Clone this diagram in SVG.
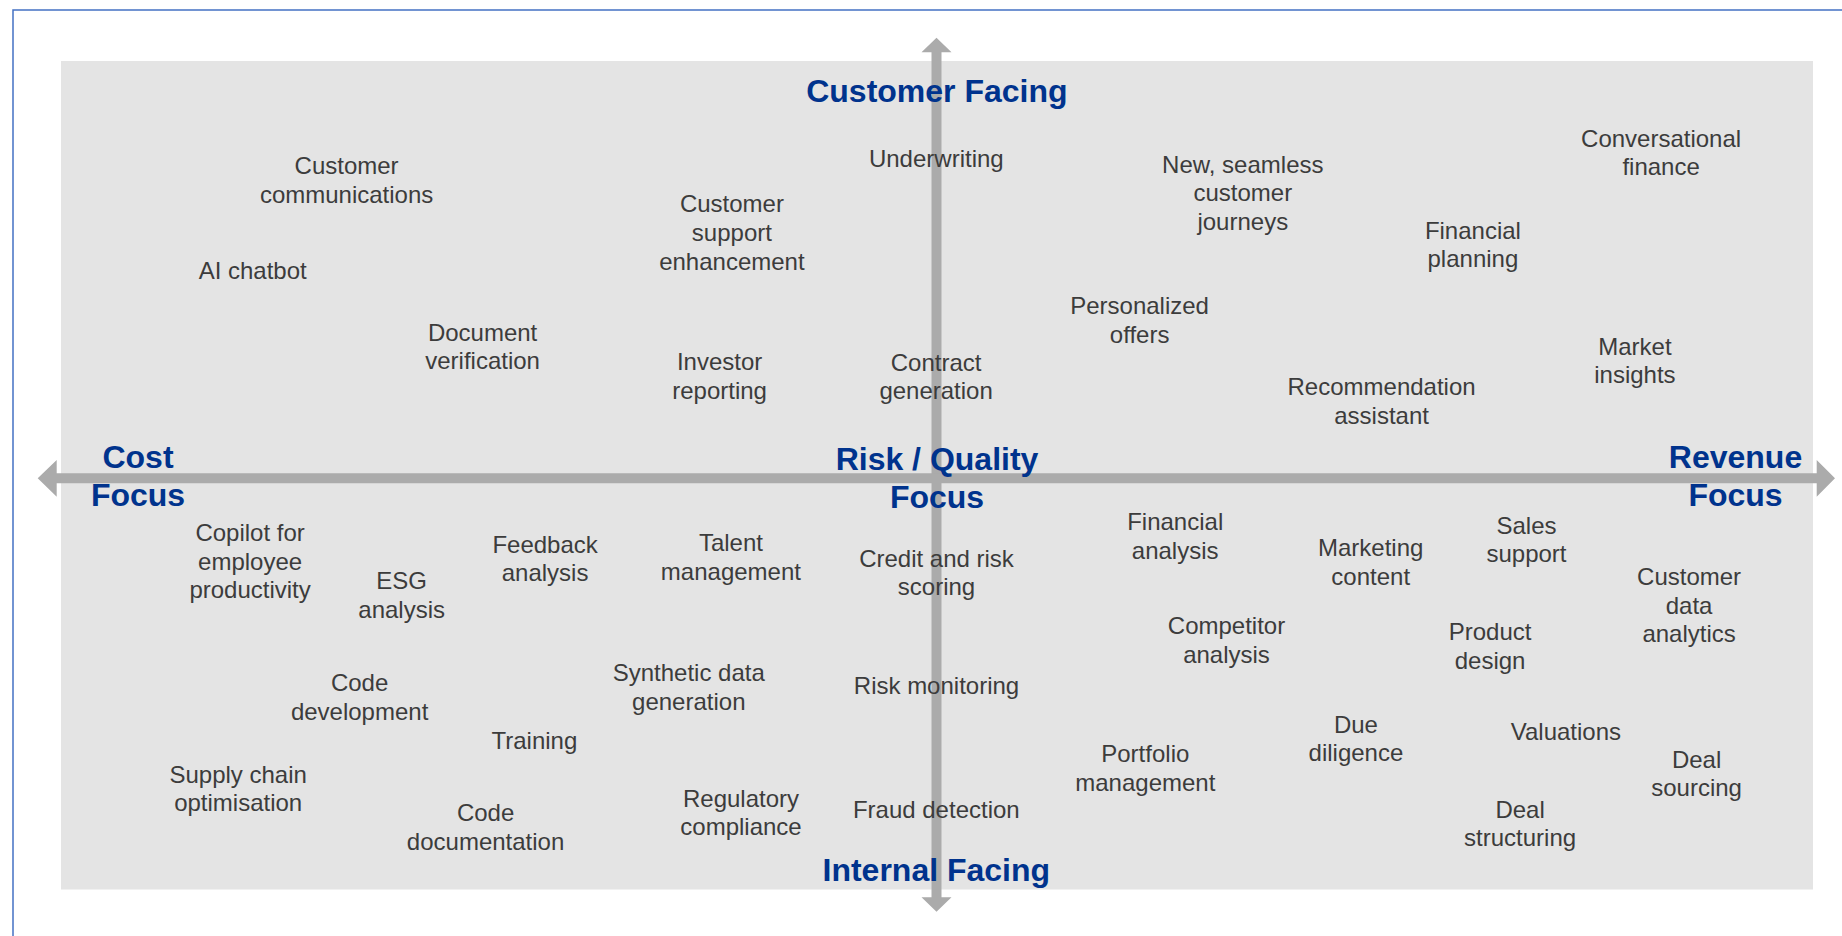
<svg xmlns="http://www.w3.org/2000/svg" width="1842" height="936" viewBox="0 0 1842 936">
<style>
.t{font-family:"Liberation Sans",Arial,sans-serif;font-size:24px;fill:#3C3C3C;text-anchor:middle}
.ax{font-family:"Liberation Sans",Arial,sans-serif;font-size:32px;font-weight:bold;fill:#00338D;text-anchor:middle}
.arrow{fill:#ABABAB}
</style>
<rect width="1842" height="936" fill="#FFFFFF"/>
<rect x="13" y="10" width="1900" height="1000" fill="none" stroke="#4472C4" stroke-width="1.5"/>
<rect x="61" y="61" width="1752" height="828.5" fill="#E4E4E4"/>
<g id="connectors">
<path class="arrow" d="M936.5,37.7 L951.5,52.3 L941.5,52.3 L941.5,897.3 L951.5,897.3 L936.5,911.7 L921.5,897.3 L931.5,897.3 L931.5,52.3 L921.5,52.3 Z"/>
<path class="arrow" d="M37.7,478.3 L56.7,460 L56.7,473.3 L1816.7,473.3 L1816.7,460 L1835,478.3 L1816.7,496.7 L1816.7,483.3 L56.7,483.3 L56.7,496.7 Z"/>
</g>
<g id="axis-customer-facing"><text class="ax" x="936.9" y="102">Customer Facing</text></g>
<g id="axis-internal-facing"><text class="ax" x="936.3" y="880.5">Internal Facing</text></g>
<g id="axis-cost-focus"><text class="ax" x="138" y="467.5"><tspan x="138">Cost</tspan><tspan x="138" dy="38.4">Focus</tspan></text></g>
<g id="axis-risk-quality-focus"><text class="ax" x="937" y="469.5"><tspan x="937">Risk / Quality</tspan><tspan x="937" dy="38.4">Focus</tspan></text></g>
<g id="axis-revenue-focus"><text class="ax" x="1735.5" y="467.5"><tspan x="1735.5">Revenue</tspan><tspan x="1735.5" dy="38.4">Focus</tspan></text></g>

<g id="customer-communications"><text class="t" y="174"><tspan x="346.6">Customer</tspan><tspan x="346.6" dy="28.7">communications</tspan></text></g>
<g id="ai-chatbot"><text class="t" x="252.7" y="279">AI chatbot</text></g>
<g id="document-verification"><text class="t" y="340.7"><tspan x="482.6">Document</tspan><tspan x="482.6" dy="28.7">verification</tspan></text></g>
<g id="customer-support-enhancement"><text class="t" y="212.3"><tspan x="731.9">Customer</tspan><tspan x="731.9" dy="28.7">support</tspan><tspan x="731.9" dy="28.7">enhancement</tspan></text></g>
<g id="underwriting"><text class="t" x="936.3" y="166.7">Underwriting</text></g>
<g id="investor-reporting"><text class="t" y="370"><tspan x="719.6">Investor</tspan><tspan x="719.6" dy="28.7">reporting</tspan></text></g>
<g id="contract-generation"><text class="t" y="370.7"><tspan x="936.1">Contract</tspan><tspan x="936.1" dy="28.7">generation</tspan></text></g>
<g id="personalized-offers"><text class="t" y="314"><tspan x="1139.6">Personalized</tspan><tspan x="1139.6" dy="28.7">offers</tspan></text></g>
<g id="new-seamless-customer-journeys"><text class="t" y="172.7"><tspan x="1242.8">New, seamless</tspan><tspan x="1242.8" dy="28.7">customer</tspan><tspan x="1242.8" dy="28.7">journeys</tspan></text></g>
<g id="financial-planning"><text class="t" y="238.7"><tspan x="1472.9">Financial</tspan><tspan x="1472.9" dy="28.7">planning</tspan></text></g>
<g id="conversational-finance"><text class="t" y="146.7"><tspan x="1661.1">Conversational</tspan><tspan x="1661.1" dy="28.7">finance</tspan></text></g>
<g id="market-insights"><text class="t" y="354.7"><tspan x="1634.9">Market</tspan><tspan x="1634.9" dy="28.7">insights</tspan></text></g>
<g id="recommendation-assistant"><text class="t" y="395"><tspan x="1381.6">Recommendation</tspan><tspan x="1381.6" dy="28.7">assistant</tspan></text></g>

<g id="copilot-employee-productivity"><text class="t" y="541"><tspan x="250.1">Copilot for</tspan><tspan x="250.1" dy="28.7">employee</tspan><tspan x="250.1" dy="28.7">productivity</tspan></text></g>
<g id="esg-analysis"><text class="t" y="589.3"><tspan x="401.7">ESG</tspan><tspan x="401.7" dy="28.7">analysis</tspan></text></g>
<g id="feedback-analysis"><text class="t" y="552.7"><tspan x="545.1">Feedback</tspan><tspan x="545.1" dy="28.7">analysis</tspan></text></g>
<g id="code-development"><text class="t" y="691"><tspan x="359.6">Code</tspan><tspan x="359.6" dy="28.7">development</tspan></text></g>
<g id="training"><text class="t" x="534.4" y="749.3">Training</text></g>
<g id="supply-chain-optimisation"><text class="t" y="782.7"><tspan x="238.2">Supply chain</tspan><tspan x="238.2" dy="28.7">optimisation</tspan></text></g>
<g id="code-documentation"><text class="t" y="821"><tspan x="485.6">Code</tspan><tspan x="485.6" dy="28.7">documentation</tspan></text></g>
<g id="talent-management"><text class="t" y="551"><tspan x="730.9">Talent</tspan><tspan x="730.9" dy="28.7">management</tspan></text></g>
<g id="credit-risk-scoring"><text class="t" y="566.7"><tspan x="936.5">Credit and risk</tspan><tspan x="936.5" dy="28.7">scoring</tspan></text></g>
<g id="synthetic-data-generation"><text class="t" y="681"><tspan x="688.8">Synthetic data</tspan><tspan x="688.8" dy="28.7">generation</tspan></text></g>
<g id="risk-monitoring"><text class="t" x="936.5" y="694.3">Risk monitoring</text></g>
<g id="regulatory-compliance"><text class="t" y="806.7"><tspan x="741">Regulatory</tspan><tspan x="741" dy="28.7">compliance</tspan></text></g>
<g id="fraud-detection"><text class="t" x="936.3" y="817.7">Fraud detection</text></g>

<g id="financial-analysis"><text class="t" y="530"><tspan x="1175.2">Financial</tspan><tspan x="1175.2" dy="28.7">analysis</tspan></text></g>
<g id="competitor-analysis"><text class="t" y="634.3"><tspan x="1226.5">Competitor</tspan><tspan x="1226.5" dy="28.7">analysis</tspan></text></g>
<g id="portfolio-management"><text class="t" y="762"><tspan x="1145.3">Portfolio</tspan><tspan x="1145.3" dy="28.7">management</tspan></text></g>
<g id="marketing-content"><text class="t" y="556"><tspan x="1370.7">Marketing</tspan><tspan x="1370.7" dy="28.7">content</tspan></text></g>
<g id="sales-support"><text class="t" y="533.7"><tspan x="1526.5">Sales</tspan><tspan x="1526.5" dy="28.7">support</tspan></text></g>
<g id="product-design"><text class="t" y="640"><tspan x="1490.1">Product</tspan><tspan x="1490.1" dy="28.7">design</tspan></text></g>
<g id="customer-data-analytics"><text class="t" y="585"><tspan x="1689.1">Customer</tspan><tspan x="1689.1" dy="28.7">data</tspan><tspan x="1689.1" dy="28.7">analytics</tspan></text></g>
<g id="due-diligence"><text class="t" y="732.7"><tspan x="1355.9">Due</tspan><tspan x="1355.9" dy="28.7">diligence</tspan></text></g>
<g id="valuations"><text class="t" x="1565.9" y="740">Valuations</text></g>
<g id="deal-sourcing"><text class="t" y="767.7"><tspan x="1696.6">Deal</tspan><tspan x="1696.6" dy="28.7">sourcing</tspan></text></g>
<g id="deal-structuring"><text class="t" y="817.7"><tspan x="1520.1">Deal</tspan><tspan x="1520.1" dy="28.7">structuring</tspan></text></g>
</svg>
